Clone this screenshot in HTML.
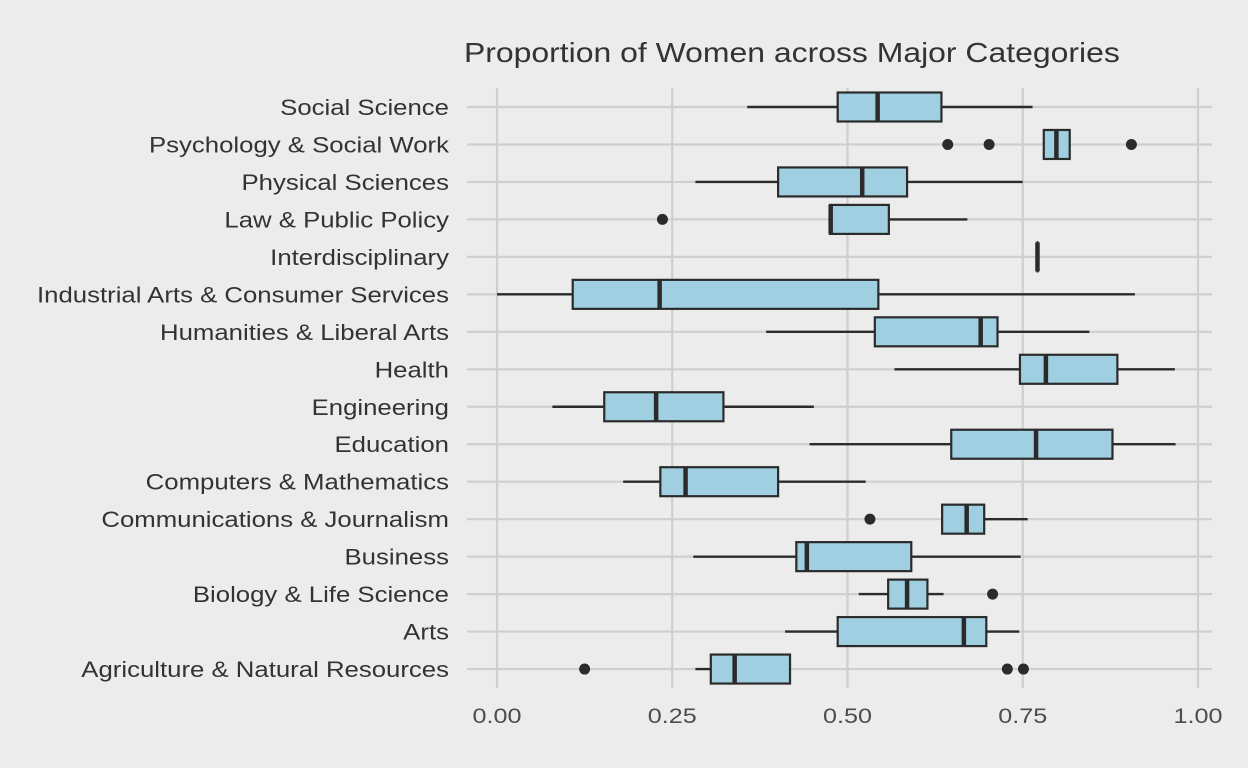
<!DOCTYPE html>
<html><head><meta charset="utf-8"><style>
html,body{margin:0;padding:0;background:#ececec;}
svg{display:block;font-family:"Liberation Sans",sans-serif;}
</style></head><body>
<svg id="chart" width="1248" height="768">
<rect width="1248" height="768" fill="#ececec"/>
<text id="title" x="464" y="62" font-size="28" fill="#333">Proportion of Women across Major Categories</text>
<g id="grid"></g><g id="marks"></g><g id="labels"></g>
</svg>
<script>
const categories=["Social Science","Psychology & Social Work","Physical Sciences","Law & Public Policy","Interdisciplinary","Industrial Arts & Consumer Services","Humanities & Liberal Arts","Health","Engineering","Education","Computers & Mathematics","Communications & Journalism","Business","Biology & Life Science","Arts","Agriculture & Natural Resources"];
const lowWhisker=[0.357,0.780,0.283,0.475,0.771,0.0,0.384,0.567,0.079,0.446,0.180,0.635,0.280,0.516,0.411,0.283];
const q1=[0.486,0.780,0.401,0.475,0.771,0.108,0.539,0.746,0.153,0.648,0.233,0.635,0.427,0.558,0.486,0.305];
const median=[0.543,0.798,0.521,0.476,0.771,0.232,0.690,0.783,0.227,0.769,0.269,0.670,0.442,0.585,0.666,0.339];
const q3=[0.634,0.817,0.585,0.559,0.771,0.544,0.714,0.885,0.323,0.878,0.401,0.695,0.591,0.614,0.698,0.418];
const highWhisker=[0.764,0.817,0.750,0.671,0.771,0.910,0.845,0.967,0.452,0.968,0.526,0.757,0.747,0.637,0.745,0.418];
const outliers=[[],[0.643,0.702,0.905],[],[0.236],[],[],[],[],[],[],[],[0.532],[],[0.707],[],[0.125,0.728,0.751]];
const xTicks=[0,0.25,0.5,0.75,1];
const xTickLabels=["0.00","0.25","0.50","0.75","1.00"];
const NS="http://www.w3.org/2000/svg";
const xs=v=>497+v*701;
const ys=i=>107+i*37.47;
function mk(p,t,a){const e=document.createElementNS(NS,t);for(const k in a)e.setAttribute(k,a[k]);p.appendChild(e);return e;}
function stretch(el,k){const w=el.getComputedTextLength();el.setAttribute('textLength',(w*k).toFixed(1));el.setAttribute('lengthAdjust','spacingAndGlyphs');}
const grid=document.getElementById('grid'),marks=document.getElementById('marks'),labels=document.getElementById('labels');
stretch(document.getElementById('title'),1.14);
xTicks.forEach((t,i)=>{
  const l=mk(grid,'line',{x1:xs(t),x2:xs(t),y1:88,y2:688,stroke:'#cfcfcf','stroke-width':2.2});
  
  
  const tx=mk(labels,'text',{x:xs(t),y:723,'font-size':21,fill:'#4d4d4d','text-anchor':'middle'});
  tx.textContent=xTickLabels[i];
  
  
  stretch(tx,1.2);
});
categories.forEach((c,i)=>{
  const y=ys(i);
  const g=mk(grid,'line',{x1:467,x2:1212,y1:y,y2:y,stroke:'#cfcfcf','stroke-width':2.2});
  
  
  const tx=mk(labels,'text',{x:449,y:y+8,'font-size':22,fill:'#333','text-anchor':'end'});
  tx.textContent=c;
  
  
  stretch(tx,1.17);
  const w=mk(marks,'line',{x1:xs(lowWhisker[i]),x2:xs(highWhisker[i]),y1:y,y2:y,stroke:'#2b2b2b','stroke-width':2.4});
  
  
  const b=mk(marks,'rect',{x:xs(q1[i]),y:y-14.5,width:Math.max(xs(q3[i])-xs(q1[i]),0.01),height:29,fill:'#9fcfe0',stroke:'#2b2b2b','stroke-width':2.2});
  
  
  const m=mk(marks,'line',{x1:xs(median[i]),x2:xs(median[i]),y1:y-14.5,y2:y+14.5,stroke:'#2b2b2b','stroke-width':4.5});
  
  
  outliers[i].forEach(o=>{
    const d=mk(marks,'circle',{cx:xs(o),cy:y,r:5.5,fill:'#2b2b2b'});
    
    
  });
});
</script>
</body></html>
